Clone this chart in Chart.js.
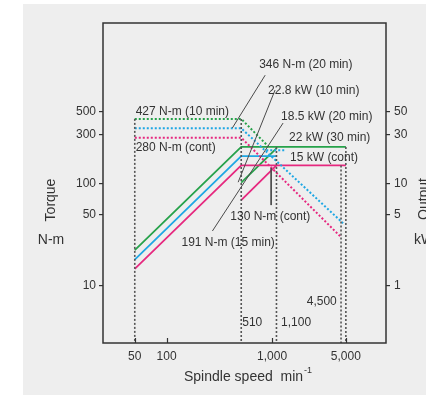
<!DOCTYPE html>
<html><head><meta charset="utf-8">
<script src="https://cdn.jsdelivr.net/npm/chart.js@4.4.1/dist/chart.umd.min.js"></script>
<style>html,body{margin:0;padding:0;background:#fff;}canvas{display:block;}</style>
</head><body>
<canvas id="c" width="426" height="395"></canvas>
<script>
// ---------------- data ----------------
const speedTicks  = [50, 100, 1000, 5000];
const torqueTicks = [10, 50, 100, 300, 500];
const outputTicks = [1, 5, 10, 30, 50];

// torque curves (N-m), dotted
const torqueGreenSpeed = [50, 510, 920];
const torqueGreen      = [427, 427, 230];
const torqueBlueSpeed  = [50, 510, 4700];
const torqueBlue       = [346, 346, 41];
const torqueBlue2Speed = [880, 1350];
const torqueBlue2      = [211, 211];
const torquePinkSpeed  = [50, 510, 4500];
const torquePink       = [280, 280, 30];

// output curves (kW), solid
const outGreenSpeed  = [50, 510, 5000];
const outGreen       = [2.24, 22.8, 22.8];
const outBlueSpeed   = [50, 510, 1100];
const outBlue        = [1.81, 18.5, 18.5];
const outPinkSpeed   = [50, 510, 5000];
const outPink        = [1.47, 15, 15];
const outGreen2Speed = [510, 1100];
const outGreen2      = [10.2, 22];
const outPink2Speed  = [510, 1100];
const outPink2       = [6.9, 15];

// speed limits (dotted verticals): speed and the torque where they start
const limitSpeeds = [50, 510, 1100, 4500, 5000];
const limitTops   = [427, 427, 227, 150, 227];

// leader lines: [speed1, torque1, speed2, torque2]
const leaders = [
  [860, 1140, 420, 348],
  [1067, 817, 477, 103],
  [1271, 389, 272, 34.4],
  [980, 141.6, 980, 61.6]
];

// text labels: [text, speed, torque, align]
const notes = [
  ['427 N-m (10 min)', 51, 498, 'left'],
  ['280 N-m (cont)', 51, 222, 'left'],
  ['346 N-m (20 min)', 754, 1432, 'left'],
  ['22.8 kW (10 min)', 916, 798, 'left'],
  ['18.5 kW (20 min)', 1216, 446, 'left'],
  ['22 kW (30 min)', 1445, 278, 'left'],
  ['15 kW (cont)', 1479, 177, 'left'],
  ['130 N-m (cont)', 402, 47.1, 'left'],
  ['191 N-m (15 min)', 138.5, 26.3, 'left'],
  ['4,500', 4100, 6.98, 'right'],
  ['510', 521, 4.36, 'left'],
  ['1,100', 1216, 4.36, 'left']
];

const X_MIN = 25, X_MAX = 12000;
const T_MIN = 2.78, T_MAX = 3680;

// ---------------- styling ----------------
const GREEN = '#26a24a', BLUE = '#1ea7e4', PINK = '#e6287f', GRAY = '#4a4a4a', TXT = '#333333';
const FONT = '"Liberation Sans", Arial, Helvetica, sans-serif';

const pts = (xs, ys) => xs.map((x, i) => ({x, y: ys[i]}));
const ds = [];
limitSpeeds.forEach((s, i) => ds.push({data: pts([s, s], [limitTops[i], T_MIN]), borderColor: '#555', borderWidth: 1.6, borderDash: [2, 2], yAxisID: 'y'}));
leaders.forEach(l => ds.push({data: pts([l[0], l[2]], [l[1], l[3]]), borderColor: GRAY, borderWidth: 1, yAxisID: 'y'}));
const dot = (xs, ys, c) => ({data: pts(xs, ys), borderColor: c, borderWidth: 2, borderDash: [2, 2], yAxisID: 'y'});
const sol = (xs, ys, c) => ({data: pts(xs, ys), borderColor: c, borderWidth: 1.8, yAxisID: 'y2'});
ds.push(dot(torqueGreenSpeed, torqueGreen, GREEN));
ds.push(dot(torqueBlueSpeed, torqueBlue, BLUE));
ds.push(dot(torqueBlue2Speed, torqueBlue2, BLUE));
ds.push(dot(torquePinkSpeed, torquePink, PINK));
ds.push(sol(outGreenSpeed, outGreen, GREEN));
ds.push(sol(outBlueSpeed, outBlue, BLUE));
ds.push(sol(outPinkSpeed, outPink, PINK));
ds.push(sol(outGreen2Speed, outGreen2, GREEN));
ds.push(sol(outPink2Speed, outPink2, PINK));

const deco = {
  id: 'deco',
  beforeDraw(chart) {
    const c = chart.ctx;
    c.save();
    c.fillStyle = '#ffffff'; c.fillRect(0, 0, chart.width, chart.height);
    c.fillStyle = '#eeeeee'; c.fillRect(23, 4, chart.width - 23, chart.height - 4);
    c.restore();
  },
  afterDraw(chart) {
    const c = chart.ctx, a = chart.chartArea, sx = chart.scales.x, sy = chart.scales.y;
    c.save();
    // frame
    c.strokeStyle = '#333'; c.lineWidth = 1.5;
    c.strokeRect(a.left, a.top, a.right - a.left, a.bottom - a.top);
    // inward x ticks
    c.lineWidth = 1.2;
    speedTicks.forEach(v => {
      const px = Math.round(sx.getPixelForValue(v)) + 0.5;
      c.beginPath(); c.moveTo(px, a.bottom); c.lineTo(px, a.bottom - 5); c.stroke();
    });
    // notes
    c.fillStyle = TXT; c.font = '12px ' + FONT; c.textBaseline = 'middle';
    notes.forEach(n => {
      c.textAlign = n[3];
      c.fillText(n[0], sx.getPixelForValue(n[1]), sy.getPixelForValue(n[2]));
    });
    // axis titles
    c.font = '14px ' + FONT;
    c.textAlign = 'left';
    const t1 = 'Spindle speed  min';
    c.fillText(t1, 184, 377);
    const w1 = c.measureText(t1).width;
    c.font = '9px ' + FONT;
    c.fillText('-1', 184 + w1 + 1, 371);
    c.font = '14px ' + FONT;
    c.textAlign = 'center';
    c.fillText('N-m', 51, 240);
    c.fillText('kW', 424, 240);
    c.save(); c.translate(51, 200); c.rotate(-Math.PI / 2); c.fillText('Torque', 0, 0); c.restore();
    c.save(); c.translate(424, 199); c.rotate(-Math.PI / 2); c.fillText('Output', 0, 0); c.restore();
    c.restore();
  }
};

const tickFont = {family: FONT, size: 12};
new Chart(document.getElementById('c'), {
  type: 'line',
  data: {datasets: ds},
  options: {
    responsive: false, animation: false, devicePixelRatio: 1,
    layout: {padding: {top: 23, left: 0, right: 0, bottom: 0}},
    plugins: {legend: {display: false}, tooltip: {enabled: false}},
    elements: {point: {radius: 0}, line: {tension: 0}},
    scales: {
      x: {
        type: 'logarithmic', min: X_MIN, max: X_MAX,
        afterBuildTicks: s => { s.ticks = speedTicks.map(v => ({value: v})); },
        afterFit: s => { s.height = 52; },
        grid: {display: false, drawTicks: false}, border: {display: false},
        ticks: {padding: 6, color: TXT, font: tickFont, maxRotation: 0, autoSkip: false,
                callback: v => Number(v).toLocaleString('en-US')}
      },
      y: {
        type: 'logarithmic', position: 'left', min: T_MIN, max: T_MAX,
        afterBuildTicks: s => { s.ticks = torqueTicks.map(v => ({value: v})); },
        afterFit: s => { s.width = 103; },
        grid: {display: true, drawOnChartArea: false, drawTicks: true, tickLength: 4, color: '#333', lineWidth: 1.2},
        border: {display: false},
        ticks: {padding: 3, color: TXT, font: tickFont, autoSkip: false, callback: v => String(v)}
      },
      y2: {
        type: 'logarithmic', position: 'right', min: T_MIN / 10, max: T_MAX / 10,
        afterBuildTicks: s => { s.ticks = outputTicks.map(v => ({value: v})); },
        afterFit: s => { s.width = 40; },
        grid: {display: true, drawOnChartArea: false, drawTicks: true, tickLength: 4, color: '#333', lineWidth: 1.2},
        border: {display: false},
        ticks: {padding: 4, color: TXT, font: tickFont, autoSkip: false, callback: v => String(v)}
      }
    }
  },
  plugins: [deco]
});
</script>
</body></html>
